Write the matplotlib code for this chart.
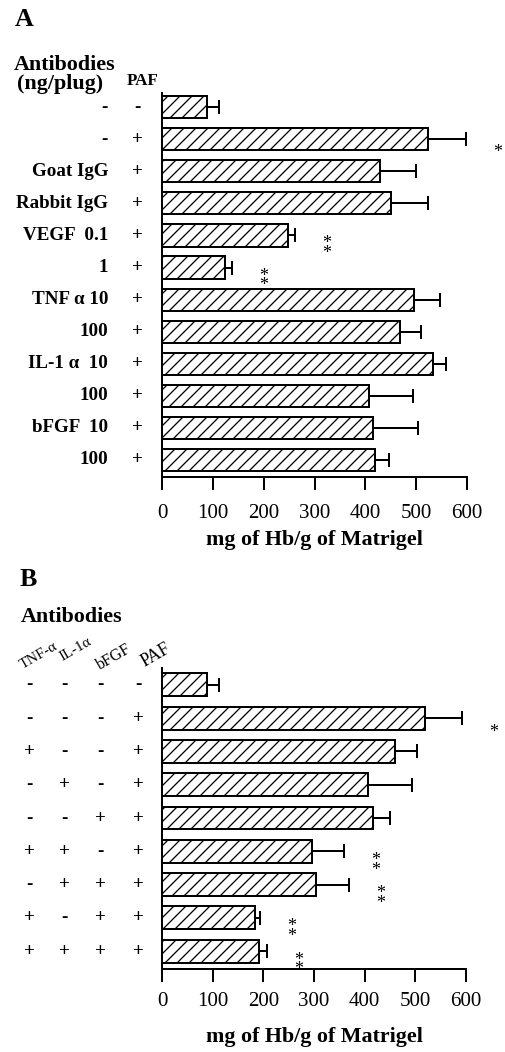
import numpy as np
import matplotlib.pyplot as plt
from matplotlib.transforms import blended_transform_factory

plt.rcParams['font.family'] = ['Liberation Serif', 'DejaVu Serif']
plt.rcParams['hatch.linewidth'] = 1.3

W, H = 505, 1052

# Panel A data
a_antibodies = ['-', '-', 'Goat IgG', 'Rabbit IgG', 'VEGF  0.1', '1',
                'TNF α 10', '100', 'IL-1 α  10', '100', 'bFGF  10', '100']
a_paf = ['-', '+', '+', '+', '+', '+', '+', '+', '+', '+', '+', '+']
a_values = [88, 524, 428, 450, 247, 123, 495, 469, 533, 407, 416, 419]
a_errors = [24, 74, 72, 73, 15, 14, 51, 40, 26, 87, 88, 28]
a_marks = ['', '*', '', '', '**', '**', '', '', '', '', '', '']

# Panel B data
b_columns = ['TNF-α', 'IL-1α', 'bFGF', 'PAF']
b_tnf = ['-', '-', '+', '-', '-', '+', '-', '+', '+']
b_il1 = ['-', '-', '-', '+', '-', '+', '+', '-', '+']
b_bfgf = ['-', '-', '-', '-', '+', '-', '+', '+', '+']
b_paf = ['-', '+', '+', '+', '+', '+', '+', '+', '+']
b_values = [88, 520, 459, 407, 416, 296, 303, 184, 192]
b_errors = [24, 73, 44, 87, 34, 63, 67, 9, 16]
b_marks = ['', '*', '', '', '', '**', '**', '**', '**']

xticks = [0, 100, 200, 300, 400, 500, 600]
xlabel = 'mg of Hb/g of Matrigel'

fig = plt.figure(figsize=(W / 72, H / 72), dpi=72)
fig.patch.set_facecolor('white')


def make_axes(x0, x1, y_top, y_bot):
    return fig.add_axes([x0 / W, 1 - y_bot / H, (x1 - x0) / W, (y_bot - y_top) / H])


def draw_bars(ax, values, errors, marks, top_pad, bot_pad, tpad, lpad):
    n = len(values)
    y = np.arange(n)
    ax.barh(y, values, height=0.69, color='white', edgecolor='black',
            linewidth=2, hatch='//', zorder=2)
    ax.errorbar(values, y, xerr=[np.zeros(n), errors], fmt='none',
                ecolor='black', elinewidth=2, capsize=7, capthick=2, zorder=3)
    for i, m in enumerate(marks):
        if m:
            ax.text(values[i] + errors[i] + 62, i + 0.42, '\n'.join(m),
                    ha='center', va='center', fontsize=18, linespacing=0.45,
                    clip_on=False)
    ax.set_xlim(0, 600)
    ax.set_ylim(n - 1 + bot_pad, -top_pad)
    ax.set_xticks(xticks)
    ax.set_yticks([])
    for s in ['top', 'right']:
        ax.spines[s].set_visible(False)
    for s in ['left', 'bottom']:
        ax.spines[s].set_linewidth(2)
    ax.tick_params(axis='x', direction='out', length=13, width=2,
                   labelsize=21, pad=tpad)
    ax.set_xlabel(xlabel, fontsize=22, fontweight='bold', labelpad=lpad)


# ---------- Panel A ----------
axA = make_axes(162, 467, 93, 477)
draw_bars(axA, a_values, a_errors, a_marks, 0.44, 0.53, 14, 7)
trA = blended_transform_factory(fig.transFigure, axA.transData)
for i in range(len(a_values)):
    axA.text(108 / W, i, a_antibodies[i], transform=trA, ha='right',
             va='center', fontsize=19, fontweight='bold')
    axA.text(137 / W, i, a_paf[i], transform=trA, ha='center',
             va='center', fontsize=19, fontweight='bold')

fig.text(15 / W, 1 - 20 / H, 'A', fontsize=26, fontweight='bold',
         ha='left', va='center')
fig.text(14 / W, 1 - 65 / H, 'Antibodies', fontsize=22, fontweight='bold',
         ha='left', va='center')
fig.text(17 / W, 1 - 84 / H, '(ng/plug)', fontsize=22, fontweight='bold',
         ha='left', va='center')
fig.text(127 / W, 1 - 81 / H, 'PAF', fontsize=17, fontweight='bold',
         ha='left', va='center')

# ---------- Panel B ----------
axB = make_axes(162, 466, 668, 969)
draw_bars(axB, b_values, b_errors, b_marks, 0.51, 0.54, 10, 16)
trB = blended_transform_factory(fig.transFigure, axB.transData)
col_x = [29, 64, 100, 138]
for i in range(len(b_values)):
    for cx, col in zip(col_x, [b_tnf, b_il1, b_bfgf, b_paf]):
        axB.text(cx / W, i, col[i], transform=trB, ha='center',
                 va='center', fontsize=19, fontweight='bold')

fig.text(20 / W, 1 - 580 / H, 'B', fontsize=26, fontweight='bold',
         ha='left', va='center')
fig.text(21 / W, 1 - 617 / H, 'Antibodies', fontsize=22, fontweight='bold',
         ha='left', va='center')
head_xy = [(23, 669), (63, 661), (100, 670), (145, 667)]
head_size = [15, 15, 16, 18]
for (hx, hy), name, fs in zip(head_xy, b_columns, head_size):
    fig.text(hx / W, 1 - hy / H, name, fontsize=fs, rotation=30,
             rotation_mode='anchor', ha='left', va='baseline')

fig.savefig('out.png', dpi=72, facecolor='white')
